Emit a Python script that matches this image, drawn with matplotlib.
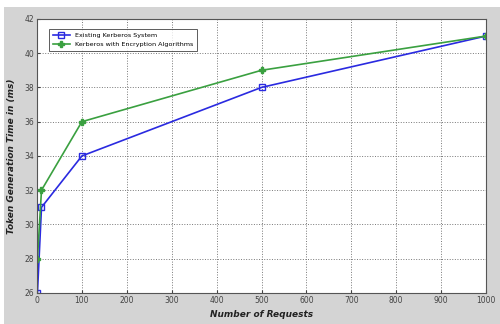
import matplotlib.pyplot as plt
from matplotlib.patches import Rectangle

# data
requests = [1, 10, 100, 500, 1000]
existing = [26, 31, 34, 38, 41]
with_encryption = [28, 32, 36, 39, 41]

x_ticks = list(range(0, 1001, 100))
y_ticks = list(range(26, 43, 2))

fig = plt.figure(figsize=(5, 3.24), dpi=100, facecolor="#d4d4d4")
# white strip along top and left edge of the screenshot
fig.patches.append(Rectangle((0, 1 - 7 / 324), 1, 7 / 324, transform=fig.transFigure,
                             facecolor="white", edgecolor="none", zorder=-1))
fig.patches.append(Rectangle((0, 0), 4 / 500, 1, transform=fig.transFigure,
                             facecolor="white", edgecolor="none", zorder=-1))

ax = fig.add_axes([0.074, 0.0957, 0.898, 0.846])
ax.plot(requests, existing, color="#2a2ae0", marker="s", markersize=4,
        markerfacecolor="none", markeredgewidth=1, linewidth=1.2,
        label="Existing Kerberos System")
ax.plot(requests, with_encryption, color="#3aa040", marker="P", markersize=4,
        linewidth=1.2, label="Kerberos with Encryption Algorithms")

ax.set_xlim(0, 1000)
ax.set_ylim(26, 42)
ax.set_xticks(x_ticks)
ax.set_yticks(y_ticks)
ax.tick_params(labelsize=5.5, length=2, direction="in", pad=2, colors="#444444")
ax.grid(True, linestyle=":", color="#777777", linewidth=0.7)
for s in ax.spines.values():
    s.set_color("#555555")
    s.set_linewidth(0.8)

ax.set_xlabel("Number of Requests", fontsize=6.5, fontstyle="italic",
              fontweight="bold", labelpad=4, color="#222222")
ax.set_ylabel("Token Generation Time in (ms)", fontsize=6.5, fontstyle="italic",
              fontweight="bold", labelpad=6, color="#222222")

leg = ax.legend(loc="upper left", fontsize=4.6, frameon=True, fancybox=False,
                edgecolor="#333333", borderpad=0.6, handlelength=2.6,
                bbox_to_anchor=(0.02, 0.975))
leg.get_frame().set_linewidth(0.7)

plt.savefig("out.png", dpi=100, facecolor=fig.get_facecolor())
